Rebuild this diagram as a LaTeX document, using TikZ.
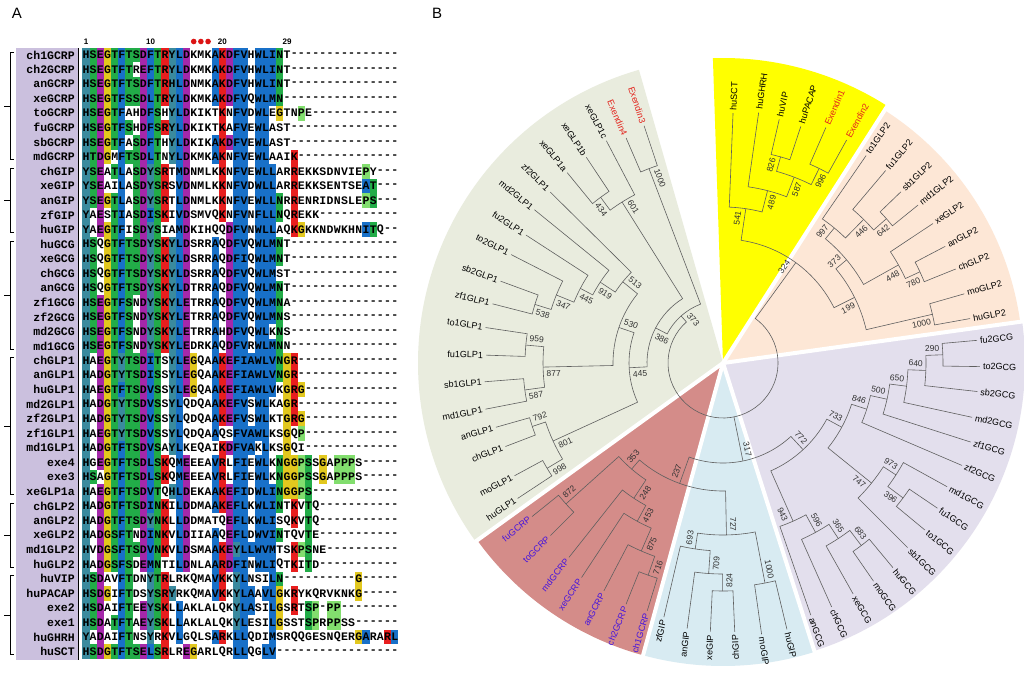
\documentclass[tikz,border=0pt]{standalone}
\usepackage{fontspec}
\setmainfont{Liberation Sans}
\newfontfamily\seqfont{Liberation Mono}
\usepackage{tikz}

\definecolor{ResBlue}{RGB}{24,112,200}
\definecolor{ResRed}{RGB}{232,30,30}
\definecolor{ResMagenta}{RGB}{165,40,170}
\definecolor{ResGreen}{RGB}{34,172,72}
\definecolor{ResYellow}{RGB}{226,200,30}
\definecolor{ResTeal}{RGB}{58,138,158}
\definecolor{ResPro}{RGB}{130,222,110}
\definecolor{NameBg}{RGB}{203,192,222}
\definecolor{DotRed}{RGB}{220,20,20}
\definecolor{SecGreen}{RGB}{233,236,222}
\definecolor{SecYellow}{RGB}{255,255,0}
\definecolor{SecPeach}{RGB}{253,231,214}
\definecolor{SecLilac}{RGB}{227,223,237}
\definecolor{SecBlue}{RGB}{216,235,242}
\definecolor{SecRed}{RGB}{212,140,137}
\definecolor{ExRed}{RGB}{226,36,28}
\definecolor{GcrpBlue}{RGB}{70,20,220}
\definecolor{BranchGray}{RGB}{95,95,95}
\definecolor{BootGray}{RGB}{50,50,50}

% residue colours
\colorlet{rcA}{ResBlue}\colorlet{rcI}{ResBlue}\colorlet{rcL}{ResBlue}
\colorlet{rcM}{ResBlue}\colorlet{rcF}{ResBlue}\colorlet{rcW}{ResBlue}
\colorlet{rcV}{ResBlue}\colorlet{rcC}{ResBlue}
\colorlet{rcK}{ResRed}\colorlet{rcR}{ResRed}
\colorlet{rcE}{ResMagenta}\colorlet{rcD}{ResMagenta}
\colorlet{rcS}{ResGreen}\colorlet{rcT}{ResGreen}\colorlet{rcN}{ResGreen}\colorlet{rcQ}{ResGreen}
\colorlet{rcG}{ResYellow}\colorlet{rcP}{ResPro}
\colorlet{rcH}{ResTeal}\colorlet{rcY}{ResTeal}

% residues coloured in each column
\newcommand\colset[2]{\expandafter\def\csname colok@#1\endcsname{#2}}
\colset{1}{HY}\colset{2}{ST}\colset{3}{ED}\colset{4}{G}\colset{5}{TS}
\colset{6}{FLIVMY}\colset{7}{TS}\colset{8}{ST}\colset{9}{DE}\colset{10}{FLIVMY}
\colset{11}{TSN}\colset{12}{RK}\colset{13}{YH}\colset{14}{LMVI}\colset{15}{DE}
\colset{16}{G}\colset{19}{AV}\colset{20}{KR}\colset{21}{DE}\colset{22}{FYL}
\colset{23}{VIL}\colset{24}{AL}\colset{25}{WF}\colset{26}{LV}\colset{27}{IMLV}
\colset{28}{NG}\colset{29}{G}\colset{30}{RKG}\colset{31}{GP}\colset{32}{TS}
\colset{33}{P}\colset{34}{G}\colset{35}{P}\colset{36}{P}\colset{37}{P}
\colset{38}{P}\colset{39}{G}\colset{40}{PAI}\colset{41}{TS}\colset{43}{R}\colset{44}{L}

\newcount\colno
\makeatletter
\newcommand\drawres[1]{%
  \advance\colno by 1
  \edef\res@set{\csname colok@\the\colno\endcsname}%
  \def\res@chk##1{\in@{#1}{##1}}%
  \expandafter\res@chk\expandafter{\res@set}%
  \pgfmathsetmacro\res@x{86+(\the\colno-1)*7.18}%
  \edef\res@nm{r\rowi c\the\colno}%
  \ifin@\fill[rc#1] ({\res@x-3.59},{\rowy-7.3}) rectangle ({\res@x+3.59},{\rowy+7.3});\fi
  \node[seqchar] (\res@nm) at (\res@x,\rowy) {#1};}
\def\seq@loop#1{\ifx#1\relax\else\drawres{#1}\expandafter\seq@loop\fi}
\newcommand\seqrow[1]{%
  \colno=0
  \expandafter\seq@loop#1\relax
  \loop\ifnum\colno<44 \drawres{-}\repeat}
\makeatother

% tree helpers (polar, centre of panel B)
\newcommand\clade[5]{\draw[branch] (#2:#3) -- (#2:#1) arc[start angle=#2, end angle=#4, radius=#1] -- (#4:#5);}
\newcommand\lleaf[4]{\node[leaflab, text=#4, anchor=east, rotate=#1-180] (t-#3) at (#1:#2) {#3};}
\newcommand\rleaf[4]{\node[leaflab, text=#4, anchor=west, rotate=#1] (t-#3) at (#1:#2) {#3};}
\newcommand\boot[5]{%
  \pgfmathsetmacro\bootang{#1+#3*7/#2*57.3}%
  \pgfmathtruncatemacro\bootleft{cos(#1)<0}%
  \ifnum\bootleft=1
    \node[bootlab, anchor=west, rotate=#1-180] (#5) at ({\bootang}:{#2-3}) {#4};
  \else
    \node[bootlab, anchor=east, rotate=#1] (#5) at ({\bootang}:{#2-3}) {#4};
  \fi}

\tikzset{
  seqchar/.style={font=\seqfont\bfseries\fontsize{11.5}{12}\selectfont, inner sep=0pt},
  seqname/.style={font=\seqfont\bfseries\fontsize{11.5}{12}\selectfont, inner sep=0pt, anchor=east},
  colnum/.style={font=\bfseries\fontsize{8}{9}\selectfont, inner sep=0pt},
  panellabel/.style={font=\fontsize{15}{16}\selectfont, inner sep=0pt},
  branch/.style={draw=BranchGray, line width=0.6pt},
  leaflab/.style={font=\fontsize{9}{10}\selectfont, inner sep=0pt},
  bootlab/.style={font=\fontsize{8.5}{9}\selectfont, text=BootGray, inner sep=0pt},
  gap/.style={draw=white, line width=4pt}
}

\begin{document}
\begin{tikzpicture}[x=1pt,y=-1pt]
  \useasboundingbox (0,0) rectangle (1024,675);
  \fill[white] (0,0) rectangle (1024,675);

  % panel A: alignment
  \node[panellabel] (labA) at (17,13) {A};
  \fill[NameBg] (16,48) rectangle (78,660);
  \draw[line width=1.3pt] (78.5,48) -- (78.5,660);
  \node[colnum] (num1) at (86,42) {1};
  \node[colnum] (num10) at (150.6,42) {10};
  \node[colnum] (num20) at (222.4,42) {20};
  \node[colnum] (num29) at (287,42) {29};
  \foreach \c in {16,17,18}
    \fill[DotRed] ({86+(\c-1)*7.18},41.5) circle (2.8);
  \foreach \a/\b in {0/7,8/12,13/20,21/30,31/35,36/41}{
    \pgfmathsetmacro\ya{55+\a*14.55-3}
    \pgfmathsetmacro\yb{55+\b*14.55+3}
    \draw[line width=0.8pt] (14,\ya) -- (10,\ya) -- (10,\yb) -- (14,\yb);
    \draw[line width=0.8pt] (10,{(\ya+\yb)/2}) -- (4,{(\ya+\yb)/2});
  }
  \foreach \nm/\sq [count=\i from 0] in {
    ch1GCRP/HSEGTFTSDFTRYLDKMKAKDFVHWLINT,
    ch2GCRP/HSEGTFTREFTRYLDKMKAKDFVHWLINT,
    anGCRP/HSEGTFTSDFTRHLDNMKAKDFVHWLINT,
    xeGCRP/HSEGTFSSDLTRYLDKMKAKDFVQWLMN,
    toGCRP/HSEGTFAHDFSHYLDKIKTKNFVDWLEGTNPE,
    fuGCRP/HSEGTFSHDFSRYLDKIKTKAFVEWLAST,
    sbGCRP/HSEGTFASDFTHYLDKIKAKDFVEWLAST,
    mdGCRP/HTDGMFTSDLTNYLDKMKAKNFVEWLAAIK,
    chGIP/YSEATLASDYSRTMDNMLKKNFVEWLLARREKKSDNVIEPY,
    xeGIP/YSEAILASDYSRSVDNMLKKNFVDWLLARREKKSENTSEAT,
    anGIP/YSEGTLASDYSRTLDNMLKKNFVEWLLNRRENRIDNSLEPS,
    zfGIP/YAESTIASDISKIVDSMVQKNFVNFLLNQREKK,
    huGIP/YAEGTFISDYSIAMDKIHQQDFVNWLLAQKGKKNDWKHNITQ,
    huGCG/HSQGTFTSDYSKYLDSRRAQDFVQWLMNT,
    xeGCG/HSQGTFTSDYSKYLDSRRAQDFIQWLMNT,
    chGCG/HSQGTFTSDYSKYLDSRRAQDFVQWLMST,
    anGCG/HSQGTFTSDYSKYLDTRRAQDFVQWLMNT,
    zf1GCG/HSEGTFSNDYSKYLETRRAQDFVQWLMNA,
    zf2GCG/HSEGTFSNDYSKYLETRRAQDFVQWLMNS,
    md2GCG/HSEGTFSNDYSKYLETRRAHDFVQWLKNS,
    md1GCG/HSEGTFSNDYSKYLEDRKAQDFVRWLMNN,
    chGLP1/HAEGTYTSDITSYLEGQAAKEFIAWLVNGR,
    anGLP1/HADGTYTSDISSYLEGQAAKEFIAWLVNGR,
    huGLP1/HAEGTFTSDVSSYLEGQAAKEFIAWLVKGRG,
    md2GLP1/HADGTYTSDVSSYLQDQAAKEFVSWLKAGR,
    zf2GLP1/HADGTYTSDVSSYLQDQAAKEFVSWLKTGRG,
    zf1GLP1/HAEGTYTSDVSSYLQDQAAQSFVAWLKSGQP,
    md1GLP1/HADGTFTSDVSAYLKEQAIKDFVAKLKSGQI,
    exe4/HGEGTFTSDLSKQMEEEAVRLFIEWLKNGGPSSGAPPPS,
    exe3/HSAGTFTSDLSKQMEEEAVRLFIEWLKNGGPSSGAPPPS,
    xeGLP1a/HAEGTFTSDVTQHLDEKAAKEFIDWLINGGPS,
    chGLP2/HADGTFTSDINKILDDMAAKEFLKWLINTKVTQ,
    anGLP2/HADGTFTSDYNKLLDDMATQEFLKWLISQKVTQ,
    xeGLP2/HADGSFTNDINKVLDIIAAQEFLDWVINTQVTE,
    md1GLP2/HVDGSFTSDVNKVLDSMAAKEYLLWVMTSKPSNE,
    huGLP2/HADGSFSDEMNTILDNLAARDFINWLIQTKITD,
    huVIP/HSDAVFTDNYTRLRKQMAVKKYLNSILN----------G,
    huPACAP/HSDGIFTDSYSRYRKQMAVKKYLAAVLGKRYKQRVKNKG,
    exe2/HSDAIFTEEYSKLLAKLALQKYLASILGSRTSP-PP,
    exe1/HSDATFTAEYSKLLAKLALQKYLESILGSSTSPRPPSS,
    huGHRH/YADAIFTNSYRKVLGQLSARKLLQDIMSRQQGESNQERGARARL,
    huSCT/HSDGTFTSELSRLREGARLQRLLQGLV}{
    \pgfmathsetmacro\rowy{55+\i*14.55}
    \edef\rowi{\i}
    \node[seqname] (n-\nm) at (75,\rowy) {\nm};
    \seqrow{\sq}
  }

  % panel B: tree
  \node[panellabel] (labB) at (437,13) {B};
  \begin{scope}[shift={(723,363)}, yscale=-1]
    \fill[SecGreen] (0,0) -- (106:305) arc[start angle=106, end angle=215.8, radius=305] -- cycle;
    \fill[SecRed] (0,0) -- (215.8:303) arc[start angle=215.8, end angle=254.7, radius=303] -- cycle;
    \fill[SecBlue] (0,0) -- (254.7:303) arc[start angle=254.7, end angle=287.6, radius=303] -- cycle;
    \fill[SecLilac] (0,0) -- (287.6:302) arc[start angle=287.6, end angle=367.9, radius=302] -- cycle;
    \fill[SecPeach] (0,0) -- (7.9:300) arc[start angle=7.9, end angle=57.4, radius=300] -- cycle;
    \fill[SecYellow] (0,0) -- (57.4:305) arc[start angle=57.4, end angle=91.9, radius=305] -- cycle;
    \foreach \g in {215.8,254.7,287.6,7.9,57.4}
      \draw[gap] (0,0) -- (\g:312);

    % GLP1 clade
    \clade{208}{108.4}{250}{113.3}{245}
    \clade{206}{123.6}{247}{129.3}{246}
    \clade{190}{117.7}{251}{126.45}{206}
    \clade{197}{159.8}{237}{165.6}{238}
    \clade{180}{152.9}{238}{162.7}{197}
    \clade{161}{147.0}{235}{157.8}{180}
    \clade{147}{140.9}{243}{152.4}{161}
    \clade{129}{135.3}{243}{146.65}{147}
    \clade{198}{171.5}{240}{178.1}{237}
    \clade{200}{184.5}{239}{191.0}{242}
    \clade{180}{174.8}{198}{187.75}{200}
    \clade{110}{141.0}{129}{181.3}{180}
    \clade{201}{195.8}{236}{201.0}{233}
    \clade{205}{208.4}{237}{213.4}{246}
    \clade{187}{198.4}{201}{210.9}{205}
    \clade{94}{161.15}{110}{204.65}{187}
    \clade{76}{122.1}{190}{182.9}{94}
    \clade{63}{110.85}{208}{152.5}{76}
    % SCT/GHRH/VIP/PACAP clade
    \clade{214}{77.0}{250}{71.8}{249}
    \clade{217}{66.4}{257}{61.0}{255}
    \clade{199}{74.4}{214}{63.7}{217}
    \clade{178}{81.9}{253}{69.05}{199}
    \clade{156}{87.7}{250}{75.5}{178}
    % GLP2 clade
    \clade{218}{43.9}{247}{39.0}{251}
    \clade{201}{49.8}{252}{41.45}{218}
    \clade{175}{55.4}{252}{45.6}{201}
    \clade{217}{27.7}{251}{22.0}{251}
    \clade{201}{33.6}{252}{24.85}{217}
    \clade{161}{50.5}{175}{29.2}{201}
    \clade{215}{16.0}{251}{10.2}{251}
    \clade{147}{39.85}{161}{13.1}{215}
    \clade{124}{81.6}{156}{26.5}{147}
    % GCG clade
    \clade{220}{5.1}{255}{-0.8}{257}
    \clade{203}{2.15}{220}{-6.4}{256}
    \clade{185}{-2.1}{203}{-12.3}{255}
    \clade{168}{-7.2}{185}{-17.7}{260}
    \clade{151}{-12.45}{168}{-23.2}{260}
    \clade{225}{-34.1}{259}{-39.6}{262}
    \clade{206}{-28.9}{256}{-36.85}{225}
    \clade{191}{-32.9}{206}{-45.0}{261}
    \clade{135}{-17.8}{151}{-38.95}{191}
    \clade{229}{-50.3}{266}{-55.4}{265}
    \clade{210}{-60.6}{265}{-52.85}{229}
    \clade{193}{-66.0}{267}{-56.7}{210}
    \clade{173}{-70.8}{267}{-61.35}{193}
    \clade{118}{-28.4}{135}{-66.1}{173}
    % GIP clade
    \clade{228}{267.3}{269}{272.5}{269}
    \clade{211}{262.3}{268}{269.9}{228}
    \clade{188}{256.9}{261}{266.1}{211}
    \clade{224}{278.1}{274}{283.5}{274}
    \clade{172}{261.5}{188}{280.8}{224}
    % GCRP clade
    \clade{225}{248.1}{260}{253.0}{259}
    \clade{205}{242.4}{257}{250.55}{225}
    \clade{180}{236.6}{257}{246.5}{205}
    \clade{162}{231.6}{248}{241.55}{180}
    \clade{211}{218.8}{245}{225.0}{244}
    \clade{140}{221.9}{211}{236.6}{162}
    \clade{128}{229.25}{140}{271.15}{172}
    \clade{100}{250.2}{128}{312.75}{118}
    % root
    \clade{55}{131.7}{63}{414.05}{124}
    \draw[branch] (281.5:55) -- (281.5:100);

    % leaves
    \lleaf{108.4}{253}{Exendin3}{ExRed}
    \lleaf{113.3}{248}{Exendin4}{ExRed}
    \lleaf{117.7}{254}{xeGLP1c}{black}
    \lleaf{123.6}{250}{xeGLP1b}{black}
    \lleaf{129.3}{249}{xeGLP1a}{black}
    \lleaf{135.3}{246}{zf2GLP1}{black}
    \lleaf{140.9}{246}{md2GLP1}{black}
    \lleaf{147.0}{238}{fu2GLP1}{black}
    \lleaf{152.9}{241}{to2GLP1}{black}
    \lleaf{159.8}{240}{sb2GLP1}{black}
    \lleaf{165.6}{241}{zf1GLP1}{black}
    \lleaf{171.5}{243}{to1GLP1}{black}
    \lleaf{178.1}{240}{fu1GLP1}{black}
    \lleaf{184.5}{242}{sb1GLP1}{black}
    \lleaf{191.0}{245}{md1GLP1}{black}
    \lleaf{195.8}{239}{anGLP1}{black}
    \lleaf{201.0}{236}{chGLP1}{black}
    \lleaf{208.4}{240}{moGLP1}{black}
    \lleaf{213.4}{249}{huGLP1}{black}
    \rleaf{87.7}{253}{huSCT}{black}
    \rleaf{81.9}{256}{huGHRH}{black}
    \rleaf{77.0}{253}{huVIP}{black}
    \rleaf{71.8}{252}{huPACAP}{black}
    \rleaf{66.4}{260}{Exendin1}{ExRed}
    \rleaf{61.0}{258}{Exendin2}{ExRed}
    \rleaf{55.4}{255}{to1GLP2}{black}
    \rleaf{49.8}{255}{fu1GLP2}{black}
    \rleaf{43.9}{250}{sb1GLP2}{black}
    \rleaf{39.0}{254}{md1GLP2}{black}
    \rleaf{33.6}{255}{xeGLP2}{black}
    \rleaf{27.7}{254}{anGLP2}{black}
    \rleaf{22.0}{254}{chGLP2}{black}
    \rleaf{16.0}{254}{moGLP2}{black}
    \rleaf{10.2}{254}{huGLP2}{black}
    \rleaf{5.1}{258}{fu2GCG}{black}
    \rleaf{-0.8}{260}{to2GCG}{black}
    \rleaf{-6.4}{259}{sb2GCG}{black}
    \rleaf{-12.3}{258}{md2GCG}{black}
    \rleaf{-17.7}{263}{zf1GCG}{black}
    \rleaf{-23.2}{263}{zf2GCG}{black}
    \rleaf{-28.9}{259}{md1GCG}{black}
    \rleaf{-34.1}{262}{fu1GCG}{black}
    \rleaf{-39.6}{265}{to1GCG}{black}
    \rleaf{-45.0}{264}{sb1GCG}{black}
    \rleaf{-50.3}{269}{huGCG}{black}
    \rleaf{-55.4}{268}{moGCG}{black}
    \rleaf{-60.6}{268}{xeGCG}{black}
    \rleaf{-66.0}{270}{chGCG}{black}
    \rleaf{-70.8}{270}{anGCG}{black}
    \lleaf{256.9}{264}{zfGIP}{black}
    \lleaf{262.3}{271}{anGIP}{black}
    \lleaf{267.3}{272}{xeGIP}{black}
    \lleaf{272.5}{272}{chGIP}{black}
    \rleaf{278.1}{277}{moGIP}{black}
    \rleaf{283.5}{277}{huGIP}{black}
    \lleaf{218.8}{248}{fuGCRP}{GcrpBlue}
    \lleaf{225.0}{247}{toGCRP}{GcrpBlue}
    \lleaf{231.6}{251}{mdGCRP}{GcrpBlue}
    \lleaf{236.6}{260}{xeGCRP}{GcrpBlue}
    \lleaf{242.4}{260}{anGCRP}{GcrpBlue}
    \lleaf{248.1}{263}{ch2GCRP}{GcrpBlue}
    \lleaf{253.0}{262}{ch1GCRP}{GcrpBlue}

    % bootstrap values
    \boot{110.85}{208}{-1}{1000}{g1000}
    \boot{126.45}{206}{1}{434}{g434}
    \boot{122.1}{190}{-1}{601}{g601}
    \boot{162.7}{197}{1}{538}{g538}
    \boot{157.8}{180}{1}{347}{g347}
    \boot{152.4}{161}{1}{445}{g445o}
    \boot{146.65}{147}{1}{919}{g919}
    \boot{141.0}{129}{-1}{513}{g513}
    \boot{174.8}{198}{-1}{959}{g959}
    \boot{187.75}{200}{1}{587}{g587}
    \boot{181.3}{180}{1}{877}{g877}
    \boot{161.15}{110}{-1}{530}{g530}
    \boot{198.4}{201}{-1}{792}{g792}
    \boot{210.9}{205}{1}{998}{g998}
    \boot{204.65}{187}{1}{801}{g801}
    \boot{182.9}{94}{1}{445}{g445i}
    \boot{152.5}{76}{1}{386}{g386}
    \boot{131.7}{63}{-1}{373}{g373}
    \boot{74.4}{214}{1}{826}{y826}
    \boot{63.7}{217}{-1}{996}{y996}
    \boot{69.05}{199}{-1}{587}{y587}
    \boot{75.5}{178}{-1}{489}{y489}
    \boot{81.6}{156}{1}{541}{y541}
    \boot{41.45}{218}{-1}{642}{p642}
    \boot{45.6}{201}{-1}{446}{p446}
    \boot{50.5}{175}{1}{997}{p997}
    \boot{24.85}{217}{-1}{780}{p780}
    \boot{29.2}{201}{-1}{448}{p448}
    \boot{39.85}{161}{1}{373}{p373}
    \boot{13.1}{215}{-1}{1000}{p1000}
    \boot{26.5}{147}{-1}{199}{p199}
    \boot{54.05}{124}{1}{324}{p324}
    \boot{2.15}{220}{1}{290}{c290}
    \boot{-2.1}{203}{1}{640}{c640}
    \boot{-7.2}{185}{1}{650}{c650}
    \boot{-12.45}{168}{1}{500}{c500}
    \boot{-17.8}{151}{1}{846}{c846}
    \boot{-36.85}{225}{-1}{396}{c396}
    \boot{-32.9}{206}{1}{973}{c973}
    \boot{-38.95}{191}{-1}{747}{c747}
    \boot{-28.4}{135}{1}{733}{c733}
    \boot{-52.85}{229}{1}{683}{c683}
    \boot{-56.7}{210}{1}{365}{c365}
    \boot{-61.35}{193}{1}{596}{c596}
    \boot{-66.1}{173}{-1}{943}{c943}
    \boot{-47.25}{118}{1}{772}{c772}
    \boot{269.9}{228}{1}{824}{i824}
    \boot{266.1}{211}{1}{709}{i709}
    \boot{261.5}{188}{-1}{693}{i693}
    \boot{280.8}{224}{1}{1000}{i1000}
    \boot{271.15}{172}{1}{727}{i727}
    \boot{250.55}{225}{1}{716}{r716}
    \boot{246.5}{205}{1}{875}{r875}
    \boot{241.55}{180}{1}{453}{r453}
    \boot{236.6}{162}{1}{248}{r248}
    \boot{221.9}{211}{-1}{872}{r872}
    \boot{229.25}{140}{-1}{353}{r353}
    \boot{250.2}{128}{-1}{237}{r237}
    \boot{281.5}{100}{1}{317}{r317}
  \end{scope}
\end{tikzpicture}
\end{document}
